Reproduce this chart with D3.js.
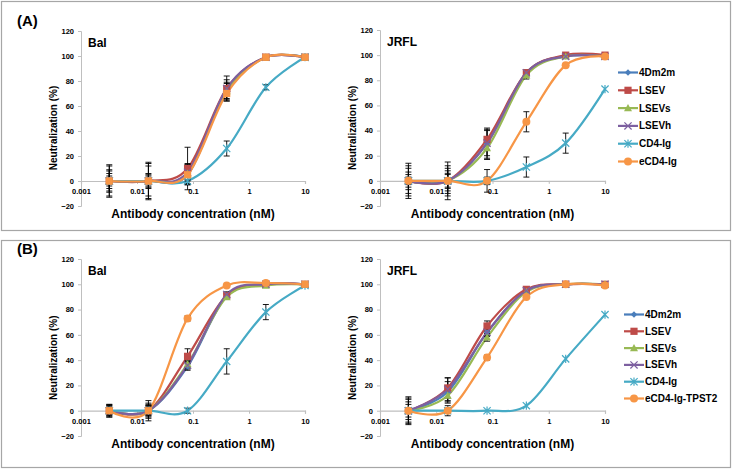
<!DOCTYPE html>
<html><head><meta charset="utf-8">
<script src="https://cdn.jsdelivr.net/npm/d3@7"></script>
<style>body{margin:0;background:#fff} svg{display:block;font-family:"Liberation Sans",Arial,sans-serif}</style>
</head><body><svg id="c" width="732" height="473"></svg>
<script>
// ---------- data ----------
const concentrations = [0.0032, 0.016, 0.08, 0.4, 2, 10];
const xTicks = [0.001, 0.01, 0.1, 1, 10];
const xTickLabels = ["0.001", "0.01", "0.1", "1", "10"];
const yTicks = [-20, 0, 20, 40, 60, 80, 100, 120];
const seriesA = ["4Dm2m", "LSEV", "LSEVs", "LSEVh", "CD4-Ig", "eCD4-Ig"];
const seriesB = ["4Dm2m", "LSEV", "LSEVs", "LSEVh", "CD4-Ig", "eCD4-Ig-TPST2"];
const panelLabels = ["(A)", "(B)"];
const virusNames = ["Bal", "JRFL"];
const xTitle = "Antibody concentration (nM)";
const yTitle = "Neutralization (%)";

// Panel A, Bal
const aBalValues = [
  [0, 0, 5, 73, 99, 99],
  [0, 0, 10, 74, 99, 99],
  [0, 0, 6, 72, 99, 99],
  [0, 0, 7, 74, 99, 99],
  [0, 0, 0, 26, 75, 99],
  [0, 0, 5, 70, 99, 99]
];
const aBalErrors = [
  [13, 15, 8, 8, 1, 1],
  [9, 12, 17, 5, 1, 1],
  [6, 6, 8, 6, 1, 1],
  [12, 14, 6, 10, 1, 1],
  [4, 5, 3, 6, 2, 1],
  [8, 4, 5, 6, 1, 1]
];
// Panel A, JRFL
const aJrflValues = [
  [0, 0, 30, 86, 99, 99],
  [0, 0, 33, 86, 100, 100],
  [0, 0, 26, 84, 99, 99],
  [0, 0, 30, 86, 99, 99],
  [0, 0, 0, 11, 30, 73],
  [0, 0, 0, 47, 92, 99]
];
const aJrflErrors = [
  [14, 15, 10, 2, 1, 1],
  [10, 8, 8, 2, 1, 1],
  [7, 12, 9, 3, 1, 1],
  [12, 10, 12, 2, 1, 1],
  [3, 6, 3, 8, 8, 1],
  [5, 5, 9, 8, 1, 1]
];
// Panel B, Bal
const bBalValues = [
  [0, 0, 35, 91, 100, 100],
  [0, 0, 43, 91, 100, 100],
  [0, 0, 37, 90, 99, 100],
  [0, 0, 36, 92, 100, 100],
  [0, 0, 0, 39, 78, 99],
  [0, 0, 73, 99, 101, 100]
];
const bBalErrors = [
  [4, 6, 3, 2, 1, 1],
  [5, 8, 6, 2, 1, 1],
  [3, 5, 3, 2, 1, 1],
  [4, 4, 3, 2, 1, 1],
  [2, 3, 2, 10, 6, 1],
  [5, 4, 2, 1, 1, 1]
];
// Panel B, JRFL
const bJrflValues = [
  [0, 15, 62, 95, 100, 100],
  [0, 18, 67, 96, 100, 100],
  [0, 12, 58, 94, 100, 100],
  [0, 17, 62, 95, 100, 100],
  [0, 0, 0, 4, 41, 76],
  [0, 0, 42, 90, 100, 99]
];
const bJrflErrors = [
  [11, 8, 3, 1, 1, 1],
  [9, 8, 4, 1, 1, 1],
  [7, 6, 3, 1, 1, 1],
  [10, 9, 3, 1, 1, 1],
  [2, 2, 1, 1, 1, 1],
  [5, 4, 2, 1, 1, 1]
];

const colors = ["#4A7EBB", "#BE4B48", "#98B954", "#7D60A0", "#46AAC5", "#F79646"];
const markerShapes = ["diamond", "square", "triangle", "x", "asterisk", "circle"];
const aBalOrangeMarkers = ["square", "square", "square", "square", "square", "square"];
const bBalOrangeMarkers = ["square", "square", "circle", "circle", "circle", "square"];

// ---------- drawing ----------
const svg = d3.select("#c");

// panel frames
const frames = [[1, 1, 729, 229], [1, 240, 729, 227]];
frames.forEach(f => svg.append("rect").attr("x", f[0] + 0.5).attr("y", f[1] + 0.5)
  .attr("width", f[2]).attr("height", f[3]).attr("fill", "none")
  .attr("stroke", "#a6a6a6").attr("stroke-width", 1.2));

function drawMarker(g, shape, x, y, color) {
  const s = 3.6;
  if (shape === "diamond") {
    g.append("path").attr("d", `M${x},${y - 3.2}L${x + 3.2},${y}L${x},${y + 3.2}L${x - 3.2},${y}Z`).attr("fill", color);
  } else if (shape === "square") {
    g.append("rect").attr("x", x - s).attr("y", y - s).attr("width", 2 * s).attr("height", 2 * s).attr("fill", color);
  } else if (shape === "triangle") {
    g.append("path").attr("d", `M${x},${y - 4}L${x + 4},${y + 3.2}L${x - 4},${y + 3.2}Z`).attr("fill", color);
  } else if (shape === "x" || shape === "asterisk") {
    g.append("path").attr("d", `M${x - s},${y - s}L${x + s},${y + s}M${x - s},${y + s}L${x + s},${y - s}` +
      (shape === "asterisk" ? `M${x},${y - s - 0.5}L${x},${y + s + 0.5}` : ""))
      .attr("stroke", color).attr("stroke-width", 1.2).attr("fill", "none");
  } else if (shape === "circle") {
    g.append("circle").attr("cx", x).attr("cy", y).attr("r", 4).attr("fill", color);
  }
}

function drawPanel(cfg) {
  const g = svg.append("g");
  const x = d3.scaleLog().domain([0.001, 10]).range([cfg.x0, cfg.x1]);
  const y = d3.scaleLinear().domain([-20, 120]).range([cfg.yBottom, cfg.yTop]);

  // y axis
  const yAxis = d3.axisLeft(y).tickValues(yTicks).tickSize(3).tickPadding(4).tickFormat(d3.format("d"));
  const ya = g.append("g").attr("transform", `translate(${cfg.x0},0)`).call(yAxis);
  ya.select(".domain").attr("stroke", "#bfbfbf").attr("stroke-width", 1);
  ya.selectAll(".tick line").attr("stroke", "#bfbfbf");
  ya.selectAll("text").attr("font-size", "7.5px").attr("font-weight", "bold").attr("fill", "#000")
    .attr("font-family", "Liberation Sans, Arial, sans-serif");

  // x axis at y=0
  const xAxis = d3.axisBottom(x).tickValues(xTicks).tickSize(3).tickPadding(5)
    .tickFormat((d, i) => xTickLabels[i]);
  const xa = g.append("g").attr("transform", `translate(0,${y(0)})`).call(xAxis);
  xa.select(".domain").attr("stroke", "#bfbfbf").attr("stroke-width", 1.2);
  xa.selectAll(".tick line").attr("stroke", "#bfbfbf");
  xa.selectAll("text").attr("font-size", "7.5px").attr("font-weight", "bold").attr("fill", "#000")
    .attr("font-family", "Liberation Sans, Arial, sans-serif");

  // titles
  g.append("text").attr("x", (cfg.x0 + cfg.x1) / 2).attr("y", y(0) + 37).attr("text-anchor", "middle")
    .attr("font-size", "12px").attr("font-weight", "bold").text(xTitle);
  g.append("text").attr("transform", `translate(${cfg.x0 - 28},${y(0) - 53}) rotate(-90)`)
    .attr("text-anchor", "middle").attr("dominant-baseline", "central")
    .attr("font-size", "10px").attr("font-weight", "bold").text(yTitle);
  g.append("text").attr("x", cfg.x0 + 7).attr("y", y(120) + 16)
    .attr("font-size", "12px").attr("font-weight", "bold").text(cfg.virus);
  if (cfg.label) {
    g.append("text").attr("x", 17).attr("y", cfg.labelY)
      .attr("font-size", "15px").attr("font-weight", "bold").text(cfg.label);
  }

  const line = d3.line().x(d => x(d[0])).y(d => y(d[1])).curve(d3.curveCardinal.tension(0));
  cfg.values.forEach((vals, si) => {
    g.append("path").datum(concentrations.map((c, i) => [c, vals[i]]))
      .attr("d", line).attr("fill", "none").attr("stroke", colors[si]).attr("stroke-width", 2.2);
  });
  // error bars
  cfg.values.forEach((vals, si) => {
    vals.forEach((v, i) => {
      const e = cfg.errors[si][i];
      if (e < 1.5) return;
      const cx = x(concentrations[i]);
      g.append("path").attr("d",
        `M${cx},${y(v + e)}L${cx},${y(v - e)}M${cx - 3},${y(v + e)}L${cx + 3},${y(v + e)}M${cx - 3},${y(v - e)}L${cx + 3},${y(v - e)}`)
        .attr("stroke", "#000").attr("stroke-width", 0.9).attr("fill", "none");
    });
  });
  // markers
  cfg.values.forEach((vals, si) => {
    vals.forEach((v, i) => {
      let shape = markerShapes[si];
      if (si === 5 && cfg.orangeMarkers) shape = cfg.orangeMarkers[i];
      drawMarker(g, shape, x(concentrations[i]), y(v), colors[si]);
    });
  });

  // legend
  if (cfg.legend) {
    const L = cfg.legend;
    cfg.series.forEach((name, si) => {
      const ly = L.y + si * L.dy;
      g.append("line").attr("x1", L.x).attr("x2", L.x + 20).attr("y1", ly).attr("y2", ly)
        .attr("stroke", colors[si]).attr("stroke-width", 2.2);
      drawMarker(g, markerShapes[si], L.x + 10, ly, colors[si]);
      g.append("text").attr("x", L.x + 21).attr("y", ly).attr("dominant-baseline", "central")
        .attr("font-size", "10px").attr("font-weight", "bold").text(name);
    });
  }
}

drawPanel({ x0: 81, x1: 305, yTop: 31, yBottom: 206, virus: virusNames[0], label: panelLabels[0], labelY: 26,
  values: aBalValues, errors: aBalErrors, series: seriesA, orangeMarkers: aBalOrangeMarkers });
drawPanel({ x0: 380, x1: 605, yTop: 30, yBottom: 206, virus: virusNames[1],
  values: aJrflValues, errors: aJrflErrors, series: seriesA,
  legend: { x: 618, y: 72.5, dy: 17.8 } });
drawPanel({ x0: 81, x1: 305, yTop: 259, yBottom: 436, virus: virusNames[0], label: panelLabels[1], labelY: 254,
  values: bBalValues, errors: bBalErrors, series: seriesB, orangeMarkers: bBalOrangeMarkers });
drawPanel({ x0: 380, x1: 605, yTop: 259, yBottom: 436, virus: virusNames[1],
  values: bJrflValues, errors: bJrflErrors, series: seriesB,
  legend: { x: 624, y: 314.5, dy: 16.8 } });
</script></body></html>
